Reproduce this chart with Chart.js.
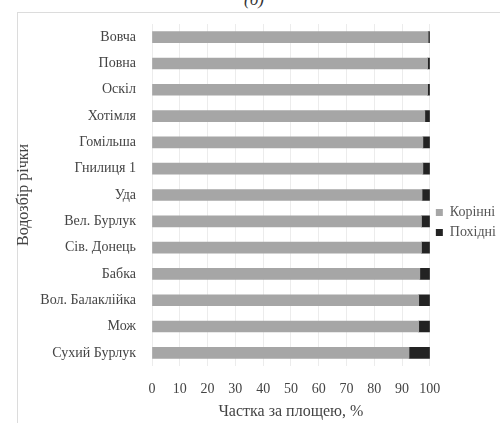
<!DOCTYPE html>
<html>
<head>
<meta charset="utf-8">
<script src="https://cdn.jsdelivr.net/npm/chart.js@4"></script>
<style>
  html, body { margin: 0; padding: 0; background: #fff; }
  #wrap { position: relative; width: 500px; height: 423px; overflow: hidden; }
  #frame { position: absolute; left: 17px; top: 12px; width: 490px; height: 420px; border: 1px solid #dcdcdc; box-sizing: border-box; }
  #tag { position: absolute; left: 244px; top: -10px; font: italic 17px "Liberation Serif", serif; color: #333; }
  canvas { position: absolute; left: 0; top: 0; }
</style>
</head>
<body>
<div id="wrap">
  <div id="frame"></div>
  <div id="tag">(б)</div>
  <canvas id="c" width="500" height="423"></canvas>
</div>
<script>
// ── Data ───────────────────────────────────────────────
const rivers = ['Вовча', 'Повна', 'Оскіл', 'Хотімля', 'Гомільша', 'Гнилиця 1', 'Уда',
                'Вел. Бурлук', 'Сів. Донець', 'Бабка', 'Вол. Балаклійка', 'Мож', 'Сухий Бурлук'];
const derived = [0.6, 0.8, 0.8, 1.8, 2.5, 2.5, 2.8, 3.0, 3.0, 3.6, 4.0, 4.0, 7.5];   // Похідні
const native  = [99.4, 99.2, 99.2, 98.2, 97.5, 97.5, 97.2, 97.0, 97.0, 96.4, 96.0, 96.0, 92.5]; // Корінні
const xTicks  = [0, 10, 20, 30, 40, 50, 60, 70, 80, 90, 100];

const SERIF = '"Liberation Serif", "Times New Roman", serif';

new Chart(document.getElementById('c'), {
    type: 'bar',
    data: {
        labels: rivers,
        datasets: [
            { label: 'Корінні', data: native,  backgroundColor: '#a6a6a6', barThickness: 11 },
            { label: 'Похідні', data: derived, backgroundColor: '#232323', barThickness: 11 }
        ]
    },
    options: {
        indexAxis: 'y',
        responsive: false,
        animation: false,
        layout: { padding: { left: 14, top: 24, right: -6, bottom: 2 } },
        plugins: {
            tooltip: { enabled: false },
            legend: {
                position: 'right',
                labels: {
                    boxWidth: 7, boxHeight: 7, padding: 6,
                    color: '#555', font: { family: SERIF, size: 14 }
                }
            }
        },
        scales: {
            x: {
                stacked: true, min: 0, max: 100,
                afterBuildTicks: s => { s.ticks = xTicks.map(v => ({ value: v })); },
                afterFit: s => { s.height = 55; },
                ticks: { color: '#444', padding: 15, font: { family: SERIF, size: 14 } },
                grid: { color: '#ececec', drawTicks: false },
                border: { display: false },
                title: { display: true, text: 'Частка за площею, %', color: '#444', padding: { top: 5, bottom: 0 }, font: { family: SERIF, size: 16 } }
            },
            y: {
                stacked: true,
                afterFit: s => { s.width = 138; },
                ticks: { color: '#444', padding: 8, font: { family: SERIF, size: 14 } },
                grid: { display: false },
                border: { display: false },
                title: { display: true, text: 'Водозбір річки', color: '#444', padding: 0, font: { family: SERIF, size: 16 } }
            }
        }
    }
});
</script>
</body>
</html>
